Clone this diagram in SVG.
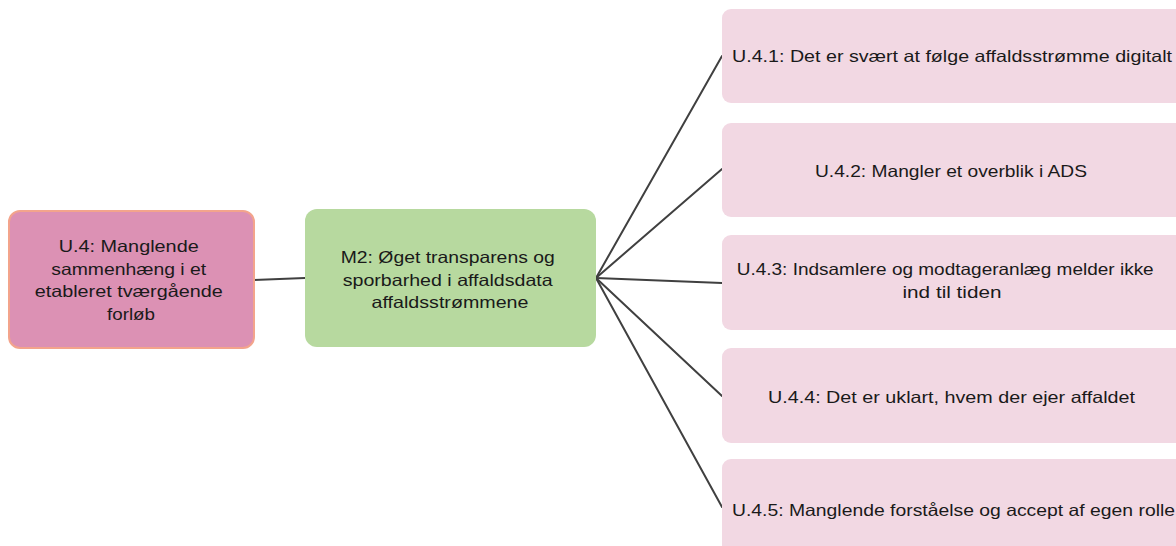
<svg xmlns="http://www.w3.org/2000/svg" width="1176" height="546" viewBox="0 0 1176 546">
  <style>
    .lbl { font-family: "Liberation Sans", Arial, sans-serif; font-size: 16.5px; fill: #1a1a1a; text-anchor: middle; }
    .root { fill: #dc91b4; stroke: #f3a48c; stroke-width: 2; }
    .measure { fill: #b7d99f; }
    .issue { fill: #f2d8e3; }
    .link { stroke: #404040; stroke-width: 2; fill: none; stroke-linecap: round; }
  </style>

  <!-- connectors -->
  <g id="connectors">
    <line class="link" x1="254" y1="280" x2="305" y2="278"/>
    <line class="link" x1="596" y1="278" x2="722" y2="56"/>
    <line class="link" x1="596" y1="278" x2="722" y2="169"/>
    <line class="link" x1="596" y1="278" x2="722" y2="283"/>
    <line class="link" x1="596" y1="278" x2="722" y2="396"/>
    <line class="link" x1="596" y1="278" x2="722" y2="507"/>
  </g>

  <!-- root problem -->
  <g id="u4">
    <rect class="root" x="9" y="211" width="245" height="137" rx="11"/>
    <text class="lbl">
      <tspan x="131" y="252" textLength="140" lengthAdjust="spacingAndGlyphs">U.4: Manglende</tspan>
      <tspan x="131" y="274.5" textLength="155" lengthAdjust="spacingAndGlyphs">sammenhæng i et</tspan>
      <tspan x="131" y="297" textLength="188" lengthAdjust="spacingAndGlyphs">etableret tværgående</tspan>
      <tspan x="131" y="319.5" textLength="48" lengthAdjust="spacingAndGlyphs">forløb</tspan>
    </text>
  </g>

  <!-- measure -->
  <g id="m2">
    <rect class="measure" x="305" y="209" width="291" height="138" rx="12"/>
    <text class="lbl">
      <tspan x="450" y="263" textLength="214" lengthAdjust="spacingAndGlyphs">M2: Øget transparens og</tspan>
      <tspan x="450" y="285.5" textLength="210" lengthAdjust="spacingAndGlyphs">sporbarhed i affaldsdata</tspan>
      <tspan x="450" y="308" textLength="157" lengthAdjust="spacingAndGlyphs">affaldsstrømmene</tspan>
    </text>
  </g>

  <!-- sub-problems -->
  <g id="u41">
    <rect class="issue" x="722" y="9" width="470" height="94" rx="9"/>
    <text class="lbl" x="952" y="62" textLength="440" lengthAdjust="spacingAndGlyphs">U.4.1: Det er svært at følge affaldsstrømme digitalt</text>
  </g>
  <g id="u42">
    <rect class="issue" x="722" y="123" width="470" height="94" rx="9"/>
    <text class="lbl" x="951" y="177" textLength="272" lengthAdjust="spacingAndGlyphs">U.4.2: Mangler et overblik i ADS</text>
  </g>
  <g id="u43">
    <rect class="issue" x="722" y="235" width="470" height="95" rx="9"/>
    <text class="lbl">
      <tspan x="947.5" y="275" textLength="417" lengthAdjust="spacingAndGlyphs">U.4.3: Indsamlere og modtageranlæg melder ikke</tspan>
      <tspan x="952" y="298" textLength="99" lengthAdjust="spacingAndGlyphs">ind til tiden</tspan>
    </text>
  </g>
  <g id="u44">
    <rect class="issue" x="722" y="348" width="470" height="95" rx="9"/>
    <text class="lbl" x="951.5" y="403" textLength="367" lengthAdjust="spacingAndGlyphs">U.4.4: Det er uklart, hvem der ejer affaldet</text>
  </g>
  <g id="u45">
    <rect class="issue" x="722" y="459" width="470" height="100" rx="9"/>
    <text class="lbl" x="953.5" y="516" textLength="443" lengthAdjust="spacingAndGlyphs">U.4.5: Manglende forståelse og accept af egen rolle</text>
  </g>
</svg>
